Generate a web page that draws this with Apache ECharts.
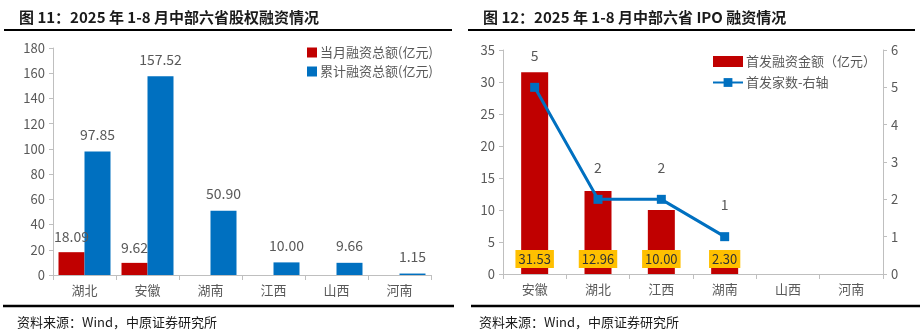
<!DOCTYPE html>
<html>
<head>
<meta charset="utf-8">
<script src="https://cdn.jsdelivr.net/npm/echarts@6/dist/echarts.min.js"></script>
<style>
  html, body { margin: 0; padding: 0; background: #fff; }
  #chart { width: 923px; height: 330px; }
</style>
</head>
<body>
<div id="chart"></div>
<script>
// Figure 11: equity financing by province
const equityCategories = ['湖北', '安徽', '湖南', '江西', '山西', '河南'];
const monthlyEquity = [18.09, 9.62, null, null, null, null];
const cumulativeEquity = [97.85, 157.52, 50.90, 10.00, 9.66, 1.15];
const equityTicks = { min: 0, max: 180, interval: 20 };

// Figure 12: IPO financing by province
const ipoCategories = ['安徽', '湖北', '江西', '湖南', '山西', '河南'];
const ipoAmount = [31.53, 12.96, 10.00, 2.30, null, null];
const ipoCount = [5, 2, 2, 1, null, null];
const ipoLeftTicks = { min: 0, max: 35, interval: 5 };
const ipoRightTicks = { min: 0, max: 6, interval: 1 };

const RED = '#C00000';
const BLUE = '#0070C0';
const GREY_TEXT = '#595959';
const AXIS_GREY = '#BFBFBF';
const FONT = '"Microsoft YaHei", "Noto Sans CJK SC", "Noto Sans", sans-serif';

const chart = echarts.init(document.getElementById('chart'), null, { renderer: 'canvas' });

const valueAxisBase = {
  type: 'value',
  axisLine: { show: true, lineStyle: { color: AXIS_GREY } },
  axisTick: { show: true, length: 4, lineStyle: { color: AXIS_GREY } },
  splitLine: { show: false },
  axisLabel: { color: GREY_TEXT, fontSize: 13, fontFamily: FONT, margin: 8 }
};
const catAxisBase = {
  type: 'category',
  axisLine: { show: true, lineStyle: { color: AXIS_GREY } },
  axisTick: { show: true, alignWithLabel: false, length: 5, lineStyle: { color: AXIS_GREY } },
  axisLabel: { color: GREY_TEXT, fontSize: 13, fontFamily: FONT, margin: 9 }
};

const option = {
  animation: false,
  textStyle: { fontFamily: FONT },
  title: [
    { text: '图 11：2025 年 1-8 月中部六省股权融资情况', left: 14, top: 5,
      textStyle: { fontSize: 15, fontWeight: 'bold', color: '#1a1a1a', fontFamily: FONT } },
    { text: '图 12：2025 年 1-8 月中部六省 IPO 融资情况', left: 478, top: 5,
      textStyle: { fontSize: 15, fontWeight: 'bold', color: '#1a1a1a', fontFamily: FONT } },
    { text: '资料来源：Wind，中原证券研究所', left: 12, top: 311,
      textStyle: { fontSize: 13, fontWeight: 'normal', color: '#1a1a1a', fontFamily: FONT } },
    { text: '资料来源：Wind，中原证券研究所', left: 474, top: 311,
      textStyle: { fontSize: 13, fontWeight: 'normal', color: '#1a1a1a', fontFamily: FONT } }
  ],
  graphic: [
    { type: 'line', shape: { x1: 4, y1: 30, x2: 452, y2: 30 }, style: { stroke: '#000', lineWidth: 2 } },
    { type: 'line', shape: { x1: 468, y1: 30, x2: 915, y2: 30 }, style: { stroke: '#000', lineWidth: 2 } },
    { type: 'line', shape: { x1: 3, y1: 306, x2: 454, y2: 306 }, style: { stroke: '#000', lineWidth: 2.5 } },
    { type: 'line', shape: { x1: 471, y1: 306, x2: 920, y2: 306 }, style: { stroke: '#000', lineWidth: 2.5 } }
  ],
  legend: [
    {
      data: ['当月融资总额(亿元)', '累计融资总额(亿元)'],
      left: 302, top: 41, orient: 'vertical', itemGap: 6,
      itemWidth: 10, itemHeight: 10, icon: 'rect',
      textStyle: { color: GREY_TEXT, fontSize: 13, fontFamily: FONT, padding: [0, 0, 0, -2] }
    },
    {
      data: [
        { name: '首发融资金额（亿元）', icon: 'rect' },
        { name: '首发家数-右轴' }
      ],
      left: 707, top: 50, orient: 'vertical', itemGap: 8,
      itemWidth: 30, itemHeight: 11,
      textStyle: { color: GREY_TEXT, fontSize: 13, fontFamily: FONT, padding: [0, 0, 0, -2] }
    }
  ],
  grid: [
    { left: 53, right: 492, top: 48, bottom: 55 },
    { left: 503, right: 40, top: 50, bottom: 56 }
  ],
  xAxis: [
    Object.assign({}, catAxisBase, { gridIndex: 0, data: equityCategories }),
    Object.assign({}, catAxisBase, { gridIndex: 1, data: ipoCategories })
  ],
  yAxis: [
    Object.assign({}, valueAxisBase, { gridIndex: 0 }, equityTicks),
    Object.assign({}, valueAxisBase, { gridIndex: 1 }, ipoLeftTicks),
    Object.assign({}, valueAxisBase, { gridIndex: 1, position: 'right' }, ipoRightTicks)
  ],
  series: [
    {
      name: '当月融资总额(亿元)', type: 'bar', xAxisIndex: 0, yAxisIndex: 0,
      data: monthlyEquity, barWidth: 26, barGap: '0%',
      itemStyle: { color: RED },
      label: { show: true, position: 'top', distance: 8, color: GREY_TEXT, fontSize: 14,
        formatter: p => p.value == null ? '' : p.value.toFixed(2) }
    },
    {
      name: '累计融资总额(亿元)', type: 'bar', xAxisIndex: 0, yAxisIndex: 0,
      data: cumulativeEquity, barWidth: 26, barGap: '0%',
      itemStyle: { color: BLUE },
      label: { show: true, position: 'top', distance: 10, color: GREY_TEXT, fontSize: 14,
        formatter: p => p.value.toFixed(2) }
    },
    {
      name: '首发融资金额（亿元）', type: 'bar', xAxisIndex: 1, yAxisIndex: 1,
      data: ipoAmount, barWidth: 27,
      itemStyle: { color: RED },
      label: { show: true, position: 'insideBottom', distance: 6, color: '#333',
        fontSize: 13, backgroundColor: '#FFC000', padding: [3, 3, 2, 3],
        formatter: p => p.value == null ? '' : p.value.toFixed(2) }
    },
    {
      name: '首发家数-右轴', type: 'line', xAxisIndex: 1, yAxisIndex: 2,
      data: ipoCount, connectNulls: false,
      lineStyle: { color: BLUE, width: 3 },
      itemStyle: { color: BLUE },
      symbol: 'rect', symbolSize: 9,
      label: { show: true, position: 'top', distance: 20, color: GREY_TEXT, fontSize: 14 }
    }
  ]
};

chart.setOption(option);
</script>
</body>
</html>
